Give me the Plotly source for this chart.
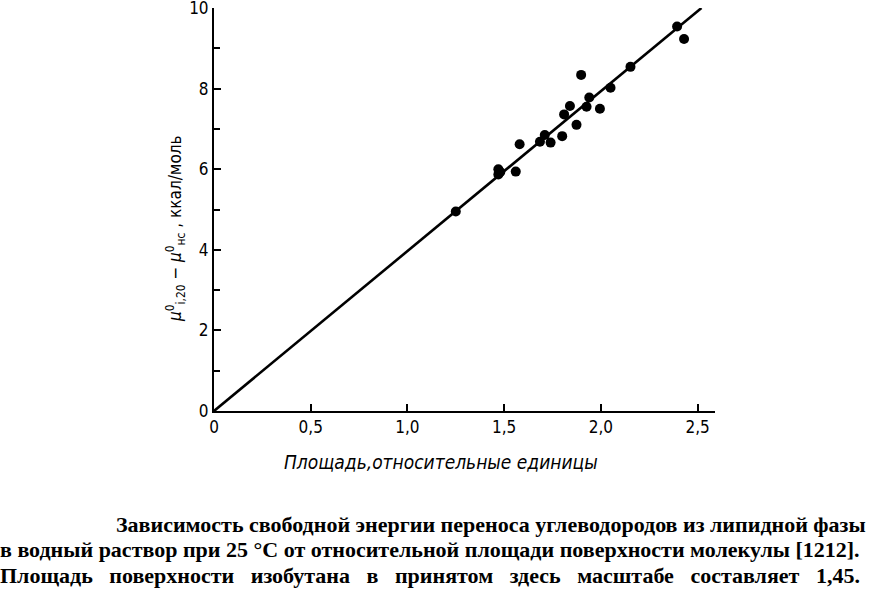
import plotly.graph_objects as go

# data
area = [1.25, 1.47, 1.47, 1.48, 1.56, 1.58, 1.685, 1.71, 1.74, 1.80, 1.81, 1.84, 1.874,
        1.898, 1.926, 1.94, 1.995, 2.05, 2.153, 2.394, 2.43]
energy = [4.95, 6.0, 5.87, 5.93, 5.94, 6.62, 6.68, 6.85, 6.66, 6.82, 7.36, 7.57, 7.10,
          8.34, 7.55, 7.78, 7.50, 8.02, 8.54, 9.54, 9.23]
fit_x = [0.0, 2.52]
fit_y = [0.0, 10.0]
x_ticks = [0, 0.5, 1.0, 1.5, 2.0, 2.5]
x_ticktext = ["0", "0,5", "1,0", "1,5", "2,0", "2,5"]
y_ticks = [0, 2, 4, 6, 8, 10]
y_ticktext = ["0", "2", "4", "6", "8", "10"]

W, H = 884, 603
L, T = 214, 8
R = W - 715
B = H - 411
pw = W - L - R
ph = H - T - B

def px(x):
    return (x - L) / pw

def py(y):
    return 1 - (y - T) / ph

fig = go.Figure()
fig.add_trace(go.Scatter(x=fit_x, y=fit_y, mode="lines",
                         line=dict(color="black", width=2.6), hoverinfo="skip"))
fig.add_trace(go.Scatter(x=area, y=energy, mode="markers",
                         marker=dict(color="black", size=10)))

tickfont = dict(family="Liberation Sans Narrow, DejaVu Sans Condensed, sans-serif", size=17, color="black")
fig.update_xaxes(range=[0, 2.59], tickvals=x_ticks, ticktext=x_ticktext,
                 ticks="inside", ticklen=7, tickwidth=1.5, tickcolor="black",
                 showline=True, linecolor="black", linewidth=2, showgrid=False,
                 zeroline=False, tickfont=tickfont, automargin=False,
                 ticklabeloverflow="allow")
fig.update_yaxes(range=[0, 10], tickvals=y_ticks, ticktext=y_ticktext,
                 ticks="inside", ticklen=7, tickwidth=1.5, tickcolor="black",
                 minor=dict(tickvals=[1, 3, 5, 7, 9], ticks="inside", ticklen=6,
                            tickwidth=1.5, tickcolor="black", showgrid=False),
                 showline=True, linecolor="black", linewidth=2, showgrid=False,
                 zeroline=False, tickfont=tickfont, automargin=False,
                 ticklabeloverflow="allow")

anns = []
anns.append(dict(x=px(441), y=py(462), xref="paper", yref="paper",
                 text="<i>Площадь,относительные единицы</i>", showarrow=False,
                 font=dict(family="Liberation Sans Narrow, DejaVu Sans Condensed, sans-serif", size=19, color="black"),
                 xanchor="center", yanchor="middle"))
anns.append(dict(x=px(176), y=py(229), xref="paper", yref="paper",
                 text="<i>μ</i><sup>0</sup><sub>i,20</sub> − <i>μ</i><sup>0</sup><sub>нс</sub> , ккал/моль",
                 textangle=-90, showarrow=False,
                 font=dict(family="Liberation Sans Narrow, DejaVu Sans Condensed, sans-serif", size=17, color="black"),
                 xanchor="center", yanchor="middle"))
cap_font = dict(family="Liberation Serif, serif", size=22, color="black")
line3 = "Площадь поверхности изобутана в принятом здесь масштабе составляет 1,45."
caption = [
    (114, 524, "<b>Зависимость свободной энергии переноса углеводородов из липидной фазы</b>"),
    (-2, 549, "<b>в водный раствор при 25 °С от относительной площади поверхности молекулы [1212].</b>"),
    (-2, 575, "<b>" + line3.replace(" ", " &nbsp;&nbsp;") + "</b>"),
]
for cx, cy, txt in caption:
    anns.append(dict(x=px(cx), y=py(cy), xref="paper", yref="paper", text=txt,
                     showarrow=False, font=cap_font, xanchor="left", yanchor="middle"))

fig.update_layout(width=W, height=H, margin=dict(l=L, r=R, t=T, b=B, autoexpand=False),
                  paper_bgcolor="white", plot_bgcolor="white", showlegend=False,
                  annotations=anns)
fig.write_html("out.html", config={"displayModeBar": False},
               post_script="document.body.style.margin='0';")
